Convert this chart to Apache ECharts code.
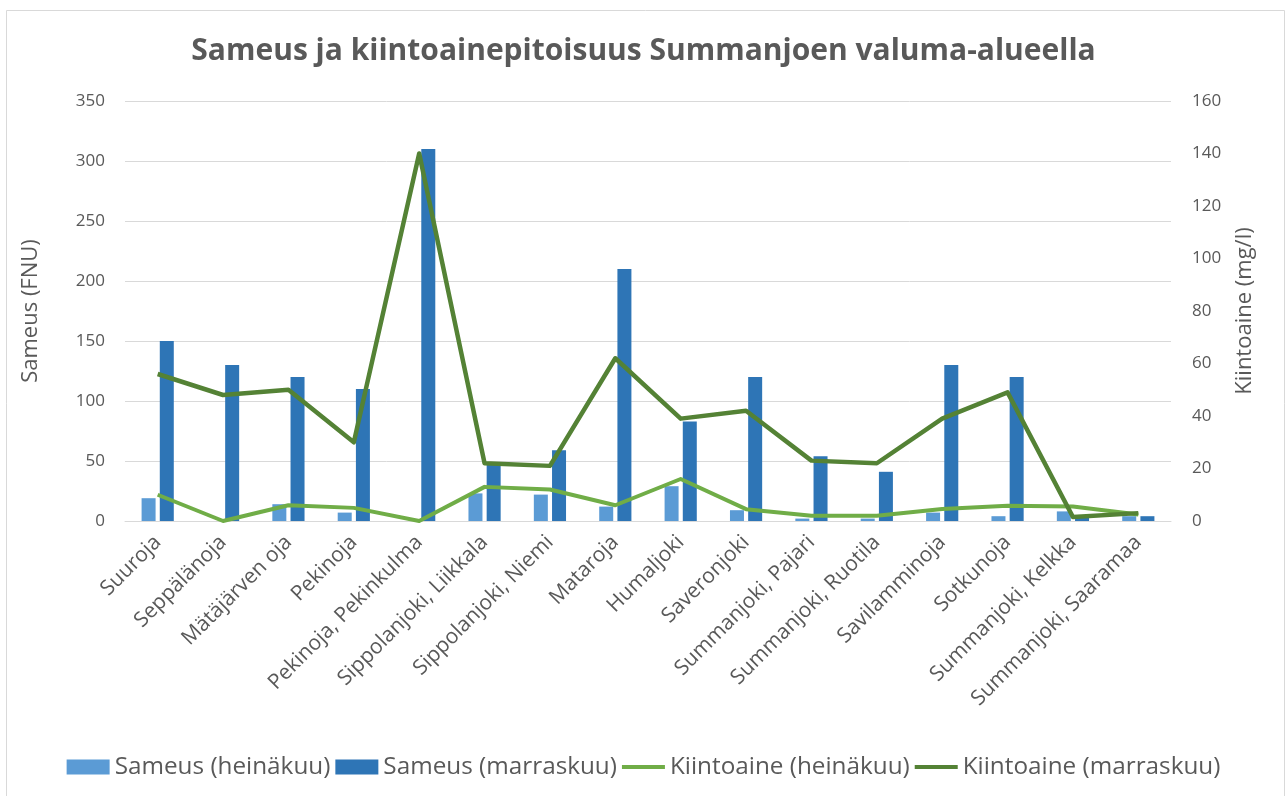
<!DOCTYPE html>
<html><head><meta charset="utf-8">
<script src="https://cdn.jsdelivr.net/npm/echarts@6/dist/echarts.min.js"></script>
<style>html,body{margin:0;padding:0;background:#fff}#c{width:1287px;height:796px}</style>
</head><body><div id="c"></div>
<script>
const categories = ["Suuroja","Seppälänoja","Mätäjärven oja","Pekinoja","Pekinoja, Pekinkulma","Sippolanjoki, Liikkala","Sippolanjoki, Niemi","Mataroja","Humaljoki","Saveronjoki","Summanjoki, Pajari","Summanjoki, Ruotila","Savilamminoja","Sotkunoja","Summanjoki, Kelkka","Summanjoki, Saaramaa"];
const sameusHeinakuu = [19, 0, 14, 7, 0, 23, 22, 12, 29, 9, 2, 2, 7, 4, 8, 4];
const sameusMarraskuu = [150, 130, 120, 110, 310, 47, 59, 210, 83, 120, 54, 41, 130, 120, 5, 4];
const kiintoHeinakuu = [10, 0, 6, 5, 0, 13, 12, 6, 16, 4.5, 2, 2, 4.6, 5.8, 5.5, 2.5];
const kiintoMarraskuu = [56, 48, 50, 30, 140, 22, 21, 62, 39, 42, 23, 22, 39, 49, 1.5, 3];
const leftTicks = {min: 0, max: 350, interval: 50};
const rightTicks = {min: 0, max: 160, interval: 20};

const txt = '#595959';
const font = 'Open Sans';
const lineIcon = 'path://M0,0L0.01,0M0,5.5L43,5.5L43,9.5L0,9.5ZM43,15L43.01,15';
const chart = echarts.init(document.getElementById('c'), null, {renderer: 'canvas'});
chart.setOption({
  backgroundColor: '#fff',
  animation: false,
  textStyle: {fontFamily: font},
  title: {
    text: 'Sameus ja kiintoainepitoisuus Summanjoen valuma-alueella',
    left: 'center', top: 31,
    textStyle: {fontFamily: font, fontSize: 30, fontWeight: 'bold', color: txt}
  },
  graphic: [{type: 'rect', shape: {x: 6.5, y: 10.5, width: 1278, height: 790}, style: {fill: null, stroke: '#d9d9d9', lineWidth: 1}}],
  legend: {
    bottom: 12, left: 'center',
    itemWidth: 43, itemHeight: 15, itemGap: 5,
    textStyle: {fontFamily: font, fontSize: 24.3, color: txt},
    data: [
      {name: 'Sameus (heinäkuu)', icon: 'rect'},
      {name: 'Sameus (marraskuu)', icon: 'rect'},
      {name: 'Kiintoaine (heinäkuu)', icon: lineIcon, itemStyle: {color: '#70ad47', borderWidth: 0}},
      {name: 'Kiintoaine (marraskuu)', icon: lineIcon, itemStyle: {color: '#548235', borderWidth: 0}}
    ]
  },
  grid: {left: 125, right: 116, top: 101, bottom: 275, containLabel: false},
  xAxis: {
    type: 'category', data: categories,
    axisLine: {show: true, lineStyle: {color: '#d9d9d9'}},
    axisTick: {show: false},
    axisLabel: {rotate: 45, interval: 0, margin: 18, fontFamily: font, fontSize: 21, color: txt}
  },
  yAxis: [{
    type: 'value', min: leftTicks.min, max: leftTicks.max, interval: leftTicks.interval,
    name: 'Sameus (FNU)', nameLocation: 'middle', nameGap: 83,
    nameTextStyle: {fontFamily: font, fontSize: 22, color: txt},
    axisLine: {show: false}, axisTick: {show: false},
    axisLabel: {margin: 20, fontFamily: font, fontSize: 17, color: txt},
    splitLine: {lineStyle: {color: '#d9d9d9', width: 1}}
  }, {
    type: 'value', min: rightTicks.min, max: rightTicks.max, interval: rightTicks.interval,
    name: 'Kiintoaine (mg/l)', nameLocation: 'middle', nameGap: 63,
    nameTextStyle: {fontFamily: font, fontSize: 22, color: txt},
    axisLine: {show: false}, axisTick: {show: false},
    axisLabel: {margin: 21, fontFamily: font, fontSize: 17, color: txt},
    splitLine: {show: false}
  }],
  series: [
    {name: 'Sameus (heinäkuu)', type: 'bar', yAxisIndex: 0, data: sameusHeinakuu, barWidth: 14, barGap: '30%', itemStyle: {color: '#5b9bd5'}},
    {name: 'Sameus (marraskuu)', type: 'bar', yAxisIndex: 0, data: sameusMarraskuu, barWidth: 14, barGap: '30%', itemStyle: {color: '#2e75b6'}},
    {name: 'Kiintoaine (heinäkuu)', type: 'line', yAxisIndex: 1, data: kiintoHeinakuu, symbol: 'none', lineStyle: {color: '#70ad47', width: 4, join: 'round'}, itemStyle: {color: '#70ad47'}},
    {name: 'Kiintoaine (marraskuu)', type: 'line', yAxisIndex: 1, data: kiintoMarraskuu, symbol: 'none', lineStyle: {color: '#548235', width: 4.5, join: 'round'}, itemStyle: {color: '#548235'}}
  ]
});
</script></body></html>
